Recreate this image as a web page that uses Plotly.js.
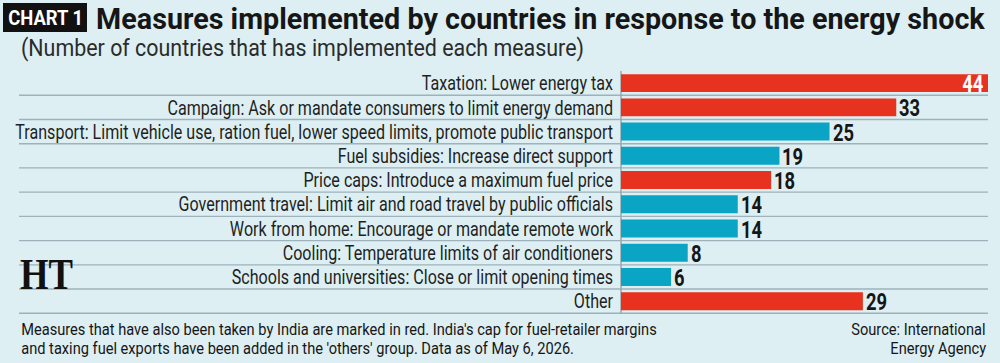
<!DOCTYPE html>
<html>
<head>
<meta charset="utf-8">
<script src="https://cdn.plot.ly/plotly-3.0.1.min.js"></script>
<style>
  html, body { margin: 0; padding: 0; background: #ddeff3; }
  #chart { width: 1000px; height: 363px; }
</style>
</head>
<body>
<div id="chart"></div>
<script>
// Measures and the number of countries that implemented each one
const measures = [
  "Taxation: Lower energy tax",
  "Campaign: Ask or mandate consumers to limit energy demand",
  "Transport: Limit vehicle use, ration fuel, lower speed limits, promote public transport",
  "Fuel subsidies: Increase direct support",
  "Price caps: Introduce a maximum fuel price",
  "Government travel: Limit air and road travel by public officials",
  "Work from home: Encourage or mandate remote work",
  "Cooling: Temperature limits of air conditioners",
  "Schools and universities: Close or limit opening times",
  "Other"
];
const countries = [44, 33, 25, 19, 18, 14, 14, 8, 6, 29];
// Measures also taken by India are drawn in red
const takenByIndia = [true, true, false, false, true, false, false, false, false, true];

const titleText = "Measures implemented by countries in response to the energy shock";
const subtitleText = "(Number of countries that has implemented each measure)";
const noteLines = [
  "Measures that have also been taken by India are marked in red. India's cap for fuel-retailer margins",
  "and taxing fuel exports have been added in the 'others' group. Data as of May 6, 2026."
];
const sourceLines = ["Source: International", "Energy Agency"];

const RED = "#e6321f";
const TEAL = "#0aa5c5";
const BG = "#ddeff3";
const INK = "#161616";
const SANS = "Roboto, 'Liberation Sans', sans-serif";

// Page geometry (pixels)
const W = 1000, H = 363;
const M = { l: 621, r: 12, t: 71, b: 49 };
const pw = W - M.l - M.r, ph = H - M.t - M.b;
const px = X => (X - M.l) / pw;
const py = Y => (H - M.b - Y) / ph;

const maxVal = Math.max(...countries);

const trace = {
  type: "bar",
  orientation: "h",
  y: measures,
  x: countries,
  width: 0.74,
  marker: { color: takenByIndia.map(t => t ? RED : TEAL), line: { width: 0 } },
  hoverinfo: "skip"
};

// Annotations paired with how each text is narrowed after drawing:
// fit = target width in px for the group key, or k = fixed horizontal scale
const notes = [];
const squeeze = [];
function addNote(ann, spec) {
  notes.push(Object.assign({ showarrow: false }, ann));
  squeeze.push(spec);
}

// Value labels: outside the bar end, except the longest bar which carries its value inside
countries.forEach((v, i) => {
  const inside = v === maxVal;
  addNote({
    xref: "x", yref: "y", x: v, y: measures[i],
    text: "<b>" + v + "</b>",
    xanchor: inside ? "right" : "left",
    xshift: inside ? -4 : 2,
    yshift: -1,
    height: 20,
    borderpad: 0,
    font: { family: SANS, size: 23, color: inside ? "#ffffff" : INK }
  }, { group: "value", k: 0.8, anchor: inside ? "end" : "start" });
});

const paper = a => Object.assign({ xref: "paper", yref: "paper" }, a);

addNote(paper({ x: px(45), y: py(18), xanchor: "center", yanchor: "middle",
  text: "<b>CHART 1</b>", font: { family: SANS, size: 21, color: "#ffffff" } }),
  { group: "badge", fit: 75, anchor: "middle" });
addNote(paper({ x: px(94), y: py(19), xanchor: "left", yanchor: "middle",
  text: "<b>" + titleText + "</b>", font: { family: SANS, size: 29.5, color: INK } }),
  { group: "title", fit: 890, anchor: "start" });
addNote(paper({ x: px(19), y: py(48), xanchor: "left", yanchor: "middle",
  text: subtitleText, font: { family: SANS, size: 23, color: "#2b2b2b" } }),
  { group: "subtitle", fit: 563, anchor: "start" });
noteLines.forEach((line, i) => addNote(paper({
  x: px(19), y: py(329 + i * 19), xanchor: "left", yanchor: "middle",
  text: line, font: { family: SANS, size: 16.5, color: INK } }),
  { group: "footer", fit: i === 0 ? 636 : null, anchor: "start" }));
sourceLines.forEach((line, i) => addNote(paper({
  x: px(988), y: py(329 + i * 19), xanchor: "right", yanchor: "middle",
  text: line, font: { family: SANS, size: 16.5, color: INK } }),
  { group: "footer", anchor: "end" }));
addNote(paper({ x: px(18), y: py(274), xanchor: "left", yanchor: "middle",
  text: "<b>HT</b>", font: { family: "'Liberation Serif', 'DejaVu Serif', serif", size: 45, color: "#111111" } }),
  { group: "logo", fit: 53, anchor: "start" });

// Row separators between categories, running across the label column too
const separators = measures.map((m, i) => ({
  type: "line", xref: "paper", yref: "y",
  x0: px(19), x1: px(988), y0: i + 0.5, y1: i + 0.5,
  line: { color: "#9db2ba", width: 1.4 },
  layer: "below"
}));

const shapes = separators.concat([
  // axis line at zero
  { type: "line", xref: "paper", yref: "paper", x0: 0, x1: 0, y0: 0, y1: 1,
    line: { color: "#9aa8ad", width: 1.5 }, layer: "below" },
  // "CHART 1" badge
  { type: "rect", xref: "paper", yref: "paper", x0: px(3), x1: px(87), y0: py(32), y1: py(3),
    fillcolor: "#111111", line: { width: 0 } }
]);

const layout = {
  width: W, height: H,
  margin: M,
  paper_bgcolor: BG,
  plot_bgcolor: BG,
  showlegend: false,
  xaxis: { range: [0, maxVal], visible: false, fixedrange: true },
  yaxis: {
    autorange: "reversed",
    tickmode: "array",
    tickvals: measures,
    ticktext: measures,
    showgrid: false,
    zeroline: false,
    showline: false,
    ticks: "",
    ticklabelstandoff: 7,
    tickfont: { family: SANS, size: 20.5, color: "#1f1f1f" },
    fixedrange: true
  },
  shapes: shapes,
  annotations: notes
};

// Narrow a text element horizontally about its left, right or centre edge
function narrow(el, k, anchor) {
  const bb = el.getBBox();
  const ax = anchor === "start" ? bb.x : anchor === "end" ? bb.x + bb.width : bb.x + bb.width / 2;
  const prev = el.getAttribute("transform") || "";
  el.setAttribute("transform", prev + " translate(" + ax + ",0) scale(" + k + ",1) translate(" + (-ax) + ",0)");
}

Plotly.newPlot("chart", [trace], layout, { displayModeBar: false, staticPlot: true }).then(gd => {
  // tick labels: fit the longest one into the label column
  const ticks = Array.from(gd.querySelectorAll(".ytick text"));
  const widest = Math.max(...ticks.map(t => t.getBBox().width));
  const kTick = 598 / widest;
  ticks.forEach(t => narrow(t, kTick, "end"));

  // annotations: one scale per group, set by the group's key text
  const texts = {};
  gd.querySelectorAll("g.annotation").forEach(g => {
    texts[+g.getAttribute("data-index")] = g.querySelector("text.annotation-text");
  });
  const groupK = {};
  squeeze.forEach((s, i) => {
    if (s.fit && texts[i]) groupK[s.group] = s.fit / texts[i].getBBox().width;
  });
  squeeze.forEach((s, i) => {
    if (!texts[i]) return;
    const k = s.k || groupK[s.group] || 1;
    narrow(texts[i], k, s.anchor);
  });
});
</script>
</body>
</html>
